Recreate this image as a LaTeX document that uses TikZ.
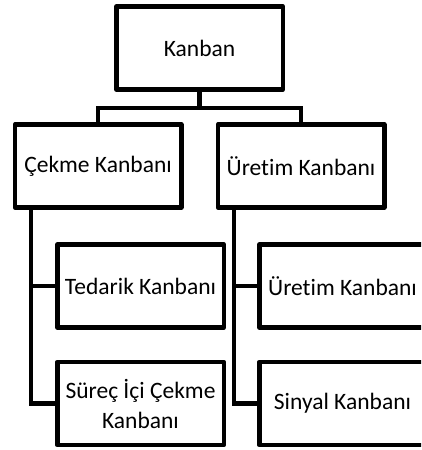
\documentclass[tikz,border=0pt]{standalone}
\usepackage{fontspec}
\setmainfont{Carlito}[Ligatures=NoCommon]
\begin{document}
\begin{tikzpicture}[
    x = 1pt, y = -1pt,
    font = \fontsize{23.5}{30}\selectfont,
    box/.style = {
      draw,
      line width = 4.5pt,
      line join = round,
      minimum width = 166.5pt,
      minimum height = 83pt,
      align = center,
      inner sep = 0,
      outer sep = 0,
    },
    link/.style = {line width = 4.5pt},
  ]
  \useasboundingbox (0,0) rectangle (421,450);
  \clip (0,0) rectangle (421,450);

  \node[box] (kanban) at (199.5,48) {Kanban};
  \node[box] (cekme) at (98,166) {Çekme Kanbanı};
  \node[box] (uretim) at (301,166) {Üretim Kanbanı};

  \coordinate (split) at (199.5,108);
  \draw[link] (kanban.south) -- (split);
  \draw[link] (cekme.north) |- (split) -| (uretim.north);

  % left branch
  \node[box] (tedarik) at (140.5,286) {Tedarik Kanbanı};
  \node[box] (surec) at (140.5,403.5) {Süreç İçi Çekme\\Kanbanı};
  \coordinate (cstem) at ([xshift=-67pt]cekme.south);
  \draw[link] (cstem) |- (surec.west);
  \draw[link] (tedarik.west) -- (tedarik.west -| cstem);

  % right branch
  \node[box] (uretimk) at (342.5,286) {Üretim Kanbanı};
  \node[box] (sinyal) at (342.5,403.5) {Sinyal Kanbanı};
  \coordinate (ustem) at ([xshift=-67pt]uretim.south);
  \draw[link] (ustem) |- (sinyal.west);
  \draw[link] (uretimk.west) -- (uretimk.west -| ustem);
\end{tikzpicture}
\end{document}
